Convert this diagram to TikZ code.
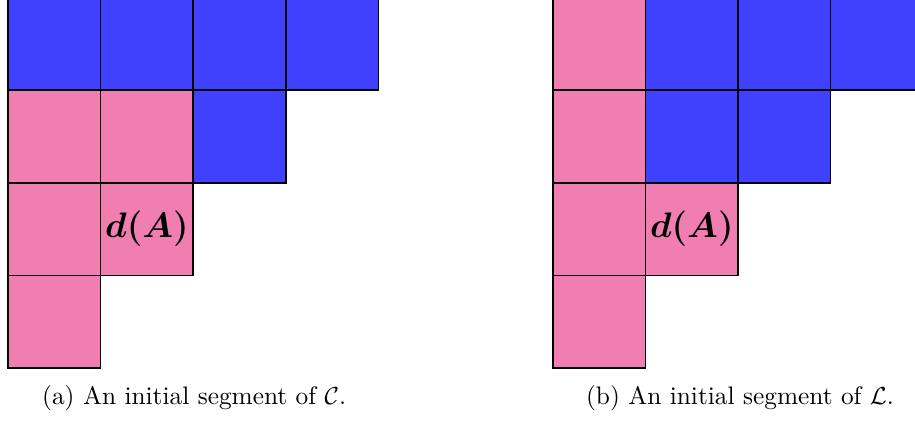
\documentclass[tikz,border=0pt]{standalone}
\usetikzlibrary{positioning}
\definecolor{cellblue}{HTML}{4040FF}
\definecolor{cellpink}{HTML}{F07EB1}
\tikzset{
  bluecell/.style={fill=cellblue, draw=black, line width=0.6pt},
  pinkcell/.style={fill=cellpink, draw=black, line width=0.6pt},
  captiontext/.style={anchor=base, font=\fontsize{10.3}{12}\selectfont}
}
\begin{document}
\begin{tikzpicture}[x=1.3227cm, y=1.3227cm]
  \useasboundingbox (-0.0864,-0.572) rectangle (9.795,3.974);
  \clip (-0.0864,-0.572) rectangle (9.795,3.974);
  % (a) initial segment of C
  \foreach \i in {0,...,3}
    \draw[bluecell] (\i,3) rectangle ++(1,1);
  \draw[bluecell] (2,2) rectangle ++(1,1);
  \foreach \i/\j in {0/2, 1/2, 0/1, 1/1, 0/0}
    \draw[pinkcell] (\i,\j) rectangle ++(1,1);
  \node[font=\Large\boldmath] (dA) at (1.5,1.5) {$d(A)$};
  \node[captiontext] (capa) at (2.01,-0.39) {(a) An initial segment of $\mathcal{C}$.};
  % (b) initial segment of L
  \begin{scope}[xshift=5.885*1.3227cm]
    \foreach \j in {0,...,3}
      \draw[pinkcell] (0,\j) rectangle ++(1,1);
    \foreach \i in {1,...,3}
      \draw[bluecell] (\i,3) rectangle ++(1,1);
    \foreach \i in {1,2}
      \draw[bluecell] (\i,2) rectangle ++(1,1);
    \draw[pinkcell] (1,1) rectangle ++(1,1);
    \node[font=\Large\boldmath] (dB) at (1.5,1.5) {$d(A)$};
    \node[captiontext] (capb) at (2.02,-0.39) {(b) An initial segment of $\mathcal{L}$.};
  \end{scope}
\end{tikzpicture}
\end{document}
